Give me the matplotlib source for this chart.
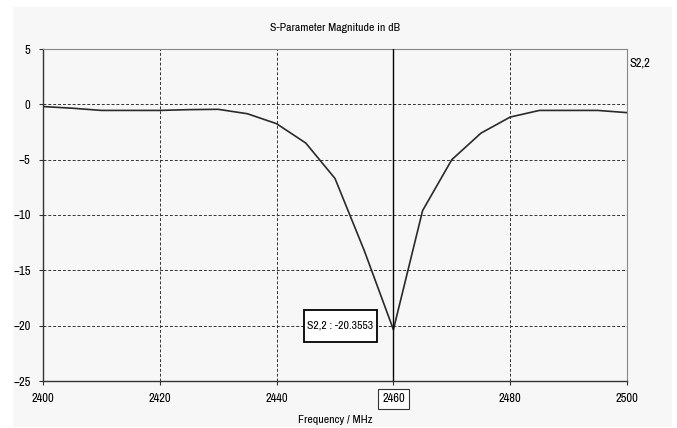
import matplotlib.pyplot as plt
from matplotlib import font_manager
from matplotlib.patches import Rectangle

freq = [2400, 2405, 2410, 2415, 2420, 2425, 2430, 2435, 2440, 2445, 2450,
        2455, 2460, 2465, 2470, 2475, 2480, 2485, 2490, 2495, 2500]
s22 = [-0.2, -0.35, -0.55, -0.55, -0.55, -0.48, -0.45, -0.85, -1.75, -3.5, -6.7,
       -13.2, -20.3553, -9.6, -5.0, -2.6, -1.15, -0.55, -0.55, -0.55, -0.75]
xticks = [2400, 2420, 2440, 2460, 2480, 2500]
yticks = [5, 0, -5, -10, -15, -20, -25]
marker_f = 2460
marker_val = -20.3553

names = sorted({f.name for f in font_manager.fontManager.ttflist})
narrow = [n for n in names if 'Narrow' in n or 'Condensed' in n]
plt.rcParams['font.family'] = narrow[:1] + ['DejaVu Sans']
plt.rcParams['font.size'] = 8.5

fig = plt.figure(figsize=(6.77, 4.28), dpi=100, facecolor='white')
# grey panel behind the plot
fig.patches.append(Rectangle((13 / 677, 1 / 428), 659 / 677, 420 / 428,
                             transform=fig.transFigure, facecolor='#f7f7f7',
                             edgecolor='none', zorder=-10))
ax = fig.add_axes([43 / 677, 47 / 428, 584 / 677, 332 / 428])
ax.set_facecolor('#f7f7f7')

ax.plot(freq, s22, color='#2a2a2a', lw=1.2, zorder=3)
ax.axvline(marker_f, color='black', lw=1.0, zorder=4)

ax.set_xlim(2400, 2500)
ax.set_ylim(-25, 5)
ax.set_xticks(xticks)
ax.set_yticks(yticks)
ax.grid(True, color='#333333', ls=(0, (3, 2)), lw=0.7)
ax.tick_params(direction='out', length=3, width=0.8, color='#333333',
               labelsize=9, pad=6)

for side in ['top', 'right']:
    ax.spines[side].set_color('#888888')
for side in ['left', 'bottom']:
    ax.spines[side].set_color('#333333')
    ax.spines[side].set_linewidth(1.0)

for lbl in ax.get_xticklabels():
    if lbl.get_text() == str(marker_f):
        lbl.set_bbox(dict(facecolor='white', edgecolor='#333333', pad=3, lw=0.8))

# marker readout box
ax.add_patch(Rectangle((0.447, 0.1175), 0.125, 0.0965, transform=ax.transAxes,
                       facecolor='white', edgecolor='black', lw=1.3, zorder=5))
ax.text(0.5095, 0.166, 'S2,2 : %.4f' % marker_val, transform=ax.transAxes,
        ha='center', va='center', fontsize=8.5, zorder=6)

fig.text(335 / 677, 1 - 28 / 428, 'S-Parameter Magnitude in dB',
         ha='center', va='center', fontsize=8.5)
fig.text(335 / 677, 1 - 420 / 428, 'Frequency / MHz', ha='center',
         va='center', fontsize=8.5)
fig.text(640 / 677, 1 - 63 / 428, 'S2,2', ha='center', va='center',
         fontsize=9)

fig.savefig('out.png', dpi=100)
